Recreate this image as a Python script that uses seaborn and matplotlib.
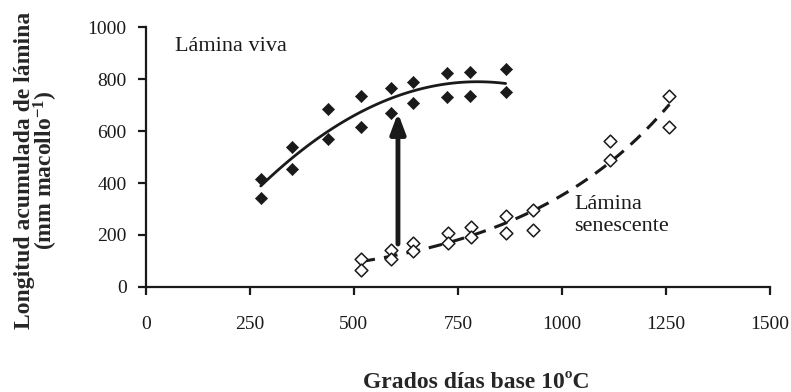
import numpy as np
import pandas as pd
import seaborn as sns
import matplotlib.pyplot as plt

# Thermal time (grados dias base 10 C) and accumulated lamina length
gdd_viva = [276, 276, 352, 352, 437, 437, 518, 518, 590, 590,
            642, 642, 723, 723, 780, 780, 865, 865]
lamina_viva = [414, 341, 538, 454, 684, 570, 735, 615, 767, 669,
               791, 707, 823, 730, 829, 737, 838, 752]

gdd_sen = [518, 518, 590, 590, 642, 642, 727, 727, 782, 782,
           866, 866, 932, 932, 1116, 1116, 1259, 1259]
lamina_sen = [106, 64, 141, 106, 168, 138, 206, 167, 231, 190,
              273, 206, 296, 219, 563, 489, 735, 617]

# arrow between the two curves
arrow_x = 606
arrow_y = [154, 681]

xticks = [0, 250, 500, 750, 1000, 1250, 1500]
yticks = [0, 200, 400, 600, 800, 1000]

viva = pd.DataFrame({'gdd': gdd_viva, 'len': lamina_viva})
sen = pd.DataFrame({'gdd': gdd_sen, 'len': lamina_sen})

# trend lines fitted to the data (quadratic for live, exponential for senescent)
xv = np.linspace(min(gdd_viva), max(gdd_viva), 100)
fit_v = pd.DataFrame({'gdd': xv, 'len': np.polyval(np.polyfit(gdd_viva, lamina_viva, 2), xv)})
xs = np.linspace(min(gdd_sen), max(gdd_sen), 100)
b, a = np.polyfit(gdd_sen, np.log(lamina_sen), 1)
fit_s = pd.DataFrame({'gdd': xs, 'len': np.exp(a + b * xs)})

sns.set_style('ticks')
plt.rcParams['font.family'] = ['Liberation Serif', 'DejaVu Serif']
plt.rcParams['mathtext.fontset'] = 'custom'
plt.rcParams['mathtext.bf'] = 'Liberation Serif:bold'
plt.rcParams['mathtext.default'] = 'bf'

fig, ax = plt.subplots(figsize=(7.91, 3.92), dpi=100)
fig.subplots_adjust(left=0.1846, right=0.973, bottom=0.2686, top=0.930)

sns.lineplot(data=fit_v, x='gdd', y='len', color='#1a1a1a', lw=2, ax=ax)
sns.lineplot(data=fit_s, x='gdd', y='len', color='#1a1a1a', lw=2.2, ax=ax,
             dashes=False, linestyle=(0, (4.5, 3)))
sns.scatterplot(data=viva, x='gdd', y='len', marker='D', s=38, color='#1a1a1a',
                edgecolor='#1a1a1a', ax=ax, zorder=3)
sns.scatterplot(data=sen, x='gdd', y='len', marker='D', s=42, facecolor='white',
                edgecolor='#1a1a1a', linewidth=1.1, ax=ax, zorder=3)

ax.annotate('', xy=(arrow_x, arrow_y[1]), xytext=(arrow_x, arrow_y[0]),
            arrowprops=dict(arrowstyle='-|>,head_length=0.8,head_width=0.3',
                            mutation_scale=15, lw=3.5, color='#1a1a1a'))

ax.text(69, 909, 'Lámina viva', fontsize=16, color='#1a1a1a', va='baseline')
ax.text(1030, 276, 'Lámina\nsenescente', fontsize=16, color='#1a1a1a',
        va='center', linespacing=1.2)

ax.set_xlim(0, 1500)
ax.set_ylim(0, 1000)
ax.set_xticks(xticks)
ax.set_yticks(yticks)
sns.despine(ax=ax)
for s in ['left', 'bottom']:
    ax.spines[s].set_linewidth(1.6)
    ax.spines[s].set_color('#1a1a1a')
ax.tick_params(axis='both', direction='out', length=6, width=1.6,
               labelsize=14, colors='#1a1a1a')
ax.tick_params(axis='x', pad=15)
ax.tick_params(axis='y', pad=8)

ax.set_xlabel('Grados días base 10ºC', fontsize=17, fontweight='bold')
ax.xaxis.set_label_coords(0.53, -0.37)
ax.xaxis.label.set_va('center')
ax.set_ylabel('Longitud acumulada de lámina\n(mm macollo$^{-1}$)',
              fontsize=17, fontweight='bold', linespacing=0.85)
ax.yaxis.set_label_coords(-0.175, 0.45)
ax.yaxis.label.set_va('center')

fig.savefig('out.png', dpi=100)
